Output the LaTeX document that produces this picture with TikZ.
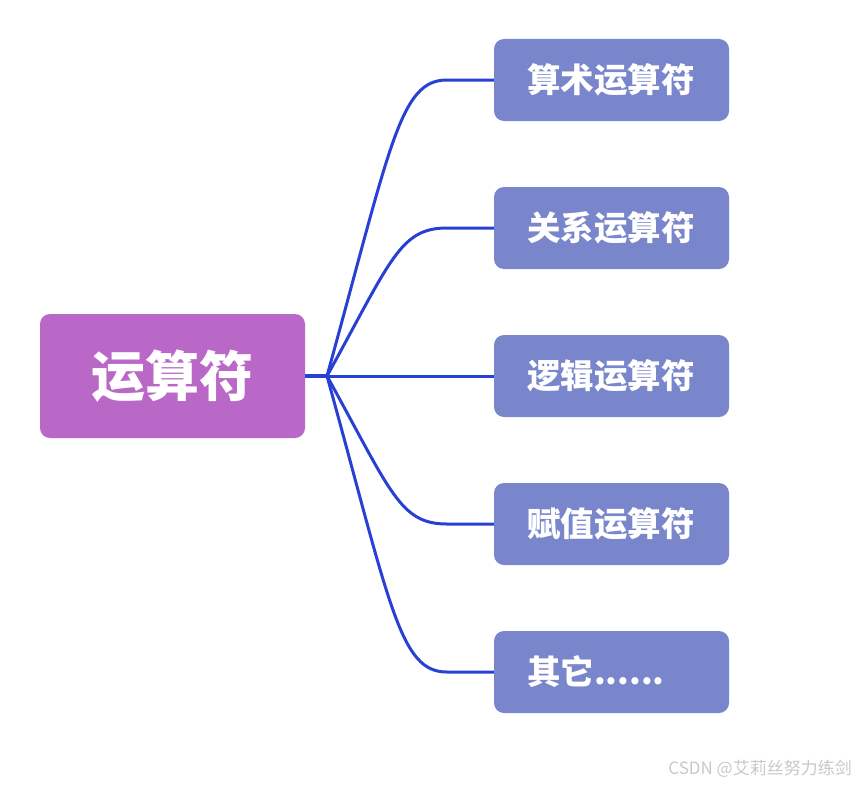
\documentclass[tikz,border=0pt]{standalone}
\usepackage{fontspec}
\usepackage{xcolor}
\usepackage{tikz}
\usetikzlibrary{positioning, calc}
\newfontfamily\cjk{Noto Sans CJK SC}
\definecolor{rootpurple}{RGB}{186,104,200}
\definecolor{leafblue}{RGB}{121,134,203}
\definecolor{linkblue}{RGB}{40,64,212}
\definecolor{markgray}{RGB}{200,200,200}

\begin{document}
\begin{tikzpicture}[x=1pt, y=-1pt,
    rootbox/.style={rounded corners=10, fill=rootpurple, text=white, minimum width=265, minimum height=124, font=\cjk\bfseries\fontsize{54}{60}\selectfont},
    leafbox/.style={rounded corners=10, fill=leafblue, text=white, inner xsep=33, text width=169, align=left, minimum height=82, font=\cjk\bfseries\fontsize{33.5}{38}\selectfont},
    link/.style={draw=linkblue, line width=3}]
    \useasboundingbox (0,0) rectangle (856,784);
    \node[rootbox] (root) at (172.5,376) {运算符};
    \node[leafbox] (l1) at (611.5,80) {算术运算符};
    \node[leafbox] (l2) at (611.5,228) {关系运算符};
    \node[leafbox] (l3) at (611.5,376) {逻辑运算符};
    \node[leafbox] (l4) at (611.5,524) {赋值运算符};
    \node[leafbox] (l5) at (611.5,672) {其它......};
    \coordinate (hub) at (327,376);
    % branches
    \draw[link, line width=3.5] (root.east) -- (hub);
    \draw[link] (hub) -- (l3.west);
    \foreach \leaf in {l1,l2,l4,l5}
        \draw[link] (hub) .. controls ($(hub)!0.78!([xshift=-85]\leaf.west)$) and ([xshift=-94]\leaf.west) .. ([xshift=-47]\leaf.west) -- (\leaf.west);
    \node[anchor=east, text=markgray, inner sep=0, font=\cjk\fontsize{17}{20}\selectfont] (mark) at (852,769) {CSDN @艾莉丝努力练剑};
\end{tikzpicture}
\end{document}
